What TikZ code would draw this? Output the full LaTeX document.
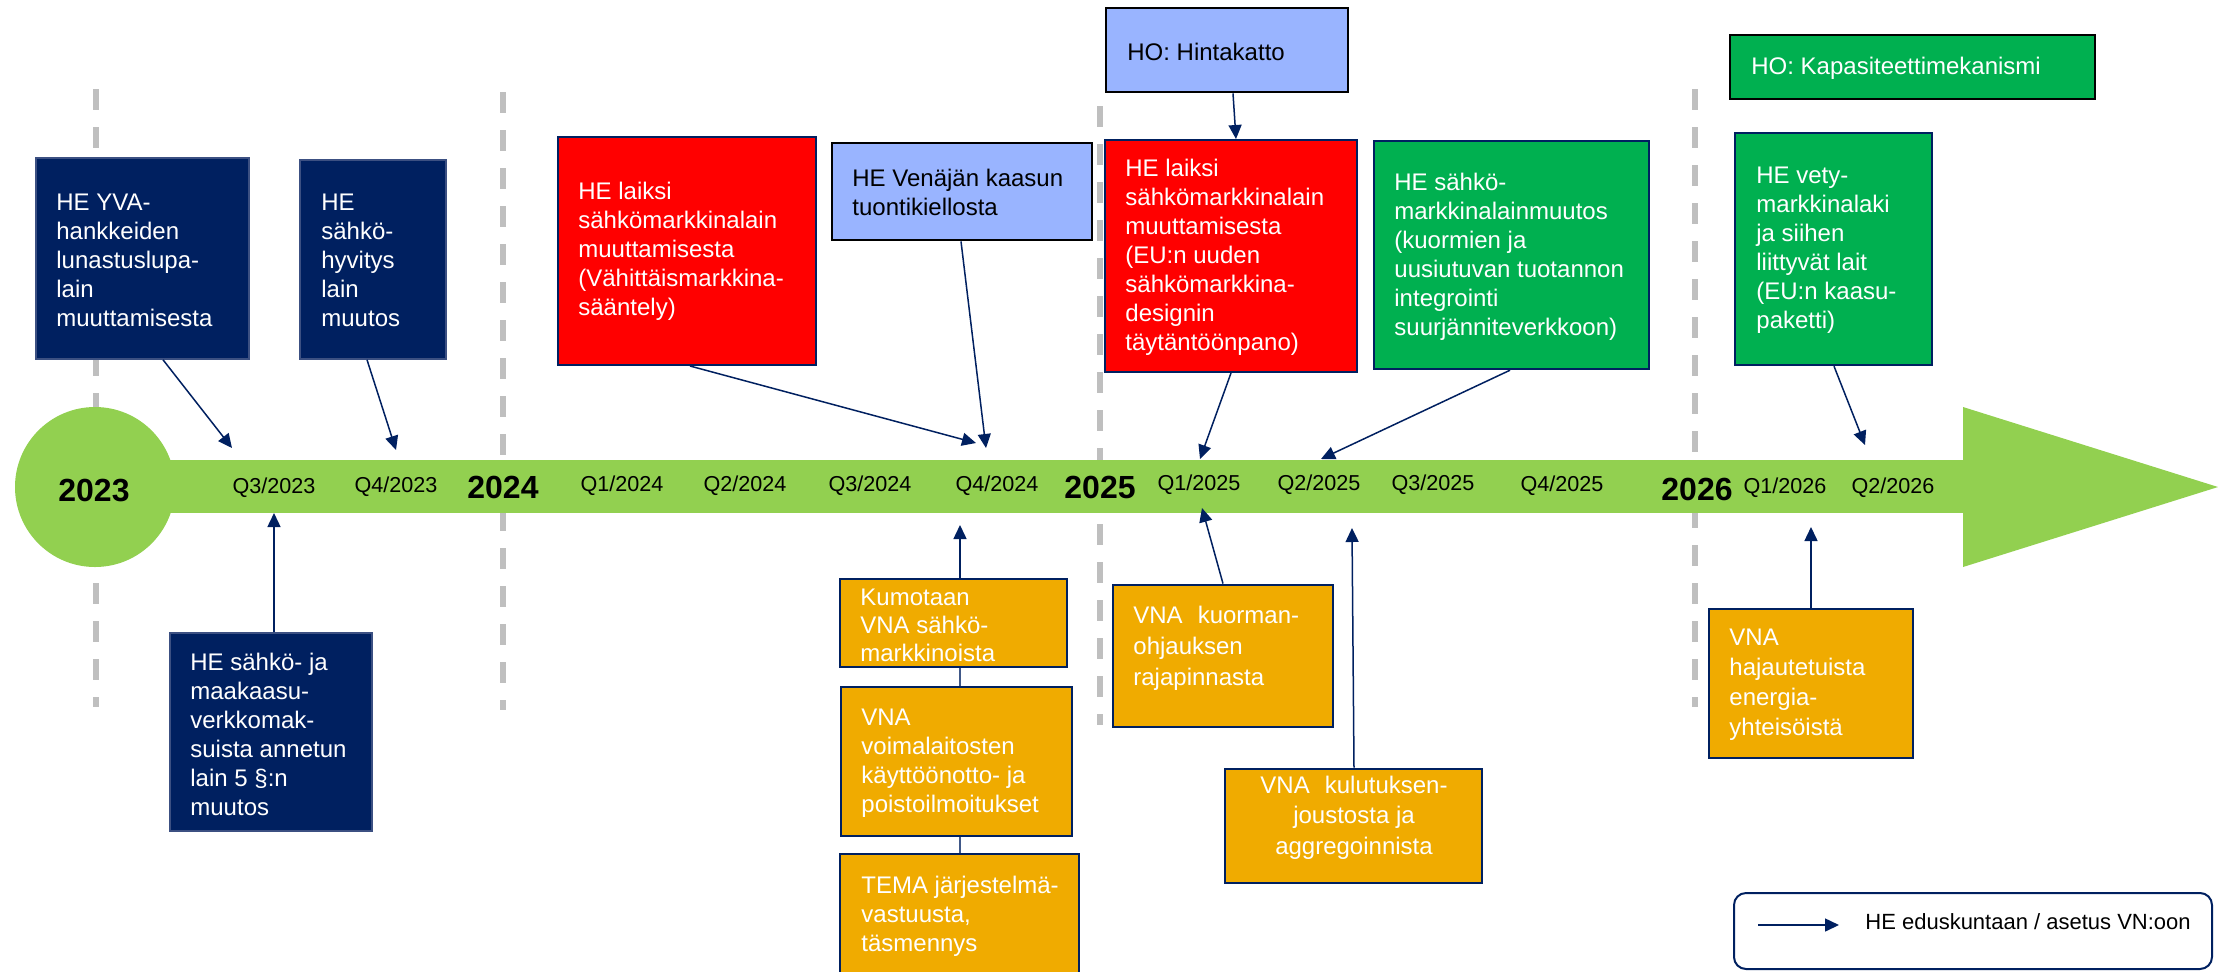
\documentclass[tikz,border=0pt]{standalone}
\usepackage{fontspec}
\setmainfont{Liberation Sans}
\usetikzlibrary{arrows.meta,fit}
\definecolor{navy}{RGB}{0,32,96}
\definecolor{navyedge}{RGB}{60,80,130}
\definecolor{hered}{RGB}{255,0,0}
\definecolor{lblue}{RGB}{153,180,255}
\definecolor{hegreen}{RGB}{0,176,80}
\definecolor{orng}{RGB}{240,171,0}
\definecolor{barg}{RGB}{146,208,80}
\definecolor{dgray}{RGB}{191,191,191}
\begin{document}
\begin{tikzpicture}[x=0.5pt,y=-0.5pt,
  hebox/.style={draw=navyedge, line width=0.75pt, fill=navy, inner sep=0pt},
  redbox/.style={draw=navy, line width=1pt, fill=hered, inner sep=0pt},
  bluebox/.style={draw=black, line width=1.4pt, fill=lblue, inner sep=0pt},
  grnbox/.style={draw=navy, line width=1.2pt, fill=hegreen, inner sep=0pt},
  blkgrn/.style={draw=black, line width=1.4pt, fill=hegreen, inner sep=0pt},
  orbox/.style={draw=navy, line width=1.4pt, fill=orng, inner sep=0pt},
  wtxt/.style={text=white, font=\fontsize{12}{14.5}\selectfont, align=left, inner sep=0pt, anchor=west},
  btxt/.style={wtxt, text=black},
  qlab/.style={font=\fontsize{10.8}{12}\selectfont, inner sep=0pt},
  yearlab/.style={font=\bfseries\fontsize{16}{18}\selectfont, inner sep=0pt},
  arr/.style={draw=navy, line width=0.75pt, -{Triangle[length=7pt,width=6.5pt]}},
  yearline/.style={draw=dgray, line width=2.6pt, dash pattern=on 10.5pt off 8.5pt},
  link/.style={draw=navy!75, line width=1pt}
]
\useasboundingbox (0,0) rectangle (2218,971);
\fill[white] (0,0) rectangle (2218,971);

% year separators
\draw[yearline] (96,89) -- (96,707);
\draw[yearline] (503,92) -- (503,710);
\draw[yearline] (1100,106) -- (1100,725);
\draw[yearline] (1695,89) -- (1695,707);

% timeline arrow
\fill[barg] (95,460) rectangle (1963,513);
\fill[barg] (1963,407) -- (2218,487) -- (1963,567) -- cycle;
\fill[barg] (95,487) circle[radius=40pt];

% timeline labels
\node[yearlab] (y23) at (94,490) {2023};
\node[yearlab] (y24) at (503,487) {2024};
\node[yearlab] (y25) at (1100,487) {2025};
\node[yearlab] (y26) at (1697,489) {2026};
\node[qlab] (q323) at (274,488) {Q3/2023};
\node[qlab] (q423) at (396,487) {Q4/2023};
\node[qlab] (q124) at (622,486) {Q1/2024};
\node[qlab] (q224) at (745,486) {Q2/2024};
\node[qlab] (q324) at (870,486) {Q3/2024};
\node[qlab] (q424) at (997,486) {Q4/2024};
\node[qlab] (q125) at (1199,485) {Q1/2025};
\node[qlab] (q225) at (1319,485) {Q2/2025};
\node[qlab] (q325) at (1433,485) {Q3/2025};
\node[qlab] (q425) at (1562,486) {Q4/2025};
\node[qlab] (q126) at (1785,488) {Q1/2026};
\node[qlab] (q226) at (1893,488) {Q2/2026};

% boxes
\node[hebox, fit={(36,158)(249,359)}] (yva) {};
\node[hebox, fit={(300,160)(446,359)}] (hyv) {};
\node[hebox, fit={(170,633)(372,831)}] (maa) {};
\node[redbox, fit={(558,137)(816,365)}] (red1) {};
\node[bluebox, fit={(832,143)(1092,240)}] (blue1) {};
\node[bluebox, fit={(1106,8)(1348,92)}] (hinta) {};
\node[redbox, fit={(1105,140)(1357,372)}] (red2) {};
\node[grnbox, fit={(1374,141)(1649,369)}] (green1) {};
\node[blkgrn, fit={(1730,35)(2095,99)}] (kapa) {};
\node[grnbox, fit={(1735,133)(1932,365)}] (green2) {};
\node[orbox, fit={(840,579)(1067,667)}] (kumo) {};
\node[orbox, fit={(841,687)(1072,836)}] (voim) {};
\node[orbox, fit={(840,854)(1079,985)}] (tema) {};
\node[orbox, fit={(1113,585)(1333,727)}] (kuor) {};
\node[orbox, fit={(1225,769)(1482,883)}] (kulu) {};
\node[orbox, fit={(1709,609)(1913,758)}] (haja) {};
\node[fit={(1734,893)(2212,969)}, draw=navy, line width=1pt, rounded corners=6pt, inner sep=0pt] (leg) {};

% box texts
\node[wtxt] (tyva) at (56,260) {HE YVA-\\hankkeiden\\lunastuslupa-\\lain\\muuttamisesta};
\node[wtxt] (thyv) at (321,260.5) {HE\\sähkö-\\hyvitys\\lain\\muutos};
\node[wtxt] (tmaa) at (190,734.5) {HE sähkö- ja\\maakaasu-\\verkkomak-\\suista annetun\\lain 5 §:n\\muutos};
\node[wtxt] (tred1) at (578,251.5) {HE laiksi\\sähkömarkkinalain\\muuttamisesta\\(Vähittäismarkkina-\\sääntely)};
\node[btxt] (tblue1) at (852,192.5) {HE Venäjän kaasun\\tuontikiellosta};
\node[btxt] (thinta) at (1127,52) {HO: Hintakatto};
\node[wtxt] (tred2) at (1125,257.5) {HE laiksi\\sähkömarkkinalain\\muuttamisesta\\(EU:n uuden\\sähkömarkkina-\\designin\\täytäntöönpano)};
\node[wtxt] (tgreen1) at (1394,256.5) {HE sähkö-\\markkinalainmuutos\\(kuormien ja\\uusiutuvan tuotannon\\integrointi\\suurjänniteverkkoon)};
\node[wtxt] (tkapa) at (1751,68) {HO: Kapasiteettimekanismi};
\node[wtxt] (tgreen2) at (1756,250) {HE vety-\\markkinalaki\\ja siihen\\liittyvät lait\\(EU:n kaasu-\\paketti)};
\node[wtxt, font=\fontsize{12}{14}\selectfont] (tkumo) at (860,625) {Kumotaan\\VNA sähkö-\\markkinoista};
\node[wtxt] (tvoim) at (861,763.5) {VNA\\voimalaitosten\\käyttöönotto- ja\\poistoilmoitukset};
\node[wtxt] (ttema) at (861,916) {TEMA järjestelmä-\\vastuusta,\\täsmennys};
\node[wtxt, font=\fontsize{12}{15.5}\selectfont] (tkuor) at (1133,648) {VNA\hspace{0.35em} kuorman-\\ohjauksen\\rajapinnasta};
\node[wtxt, font=\fontsize{12}{15.25}\selectfont, align=center, anchor=center] (tkulu) at (1354,817.5) {VNA\hspace{0.35em} kulutuksen-\\joustosta ja\\aggregoinnista};
\node[wtxt, font=\fontsize{12}{15}\selectfont] (thaja) at (1729,685) {VNA\\hajautetuista\\energia-\\yhteisöistä};
\node[btxt, font=\fontsize{11}{13}\selectfont] (tleg) at (1865,922) {HE eduskuntaan / asetus VN:oon};

% target points on the timeline
\coordinate (p1) at (232,448);
\coordinate (p2) at (396,450);
\coordinate (p3) at (274,513);
\coordinate (p4) at (976,443);
\coordinate (p5) at (986,448);
\coordinate (p6) at (960,525);
\coordinate (p8) at (1200,459);
\coordinate (p9) at (1321,459);
\coordinate (p10) at (1202,508);
\coordinate (p11) at (1352,528);
\coordinate (p12) at (1865,445);
\coordinate (p13) at (1811,527);
\coordinate (la) at (1758,925);
\coordinate (lb) at (1839,925);

% connectors
\draw[arr] (yva.south -| 163,0) -- (p1);
\draw[arr] (hyv.south -| 367,0) -- (p2);
\draw[arr] (maa.north -| 274,0) -- (p3);
\draw[arr] (red1.south -| 690,0) -- (p4);
\draw[arr] (blue1.south -| 961,0) -- (p5);
\draw[arr] (kumo.north -| 960,0) -- (p6);
\draw[link] (kumo.south -| 960,0) -- (voim.north -| 960,0);
\draw[link] (voim.south -| 960,0) -- (tema.north -| 960,0);
\draw[arr] (hinta.south -| 1233,0) -- (red2.north -| 1236,0);
\draw[arr] (red2.south -| 1231,0) -- (p8);
\draw[arr] (green1.south -| 1510,0) -- (p9);
\draw[arr] (kuor.north -| 1223,0) -- (p10);
\draw[arr] (kulu.north -| 1354,0) -- (p11);
\draw[arr] (green2.south -| 1834,0) -- (p12);
\draw[arr] (haja.north -| 1811,0) -- (p13);
\draw[arr] (la) -- (lb);
\end{tikzpicture}
\end{document}
